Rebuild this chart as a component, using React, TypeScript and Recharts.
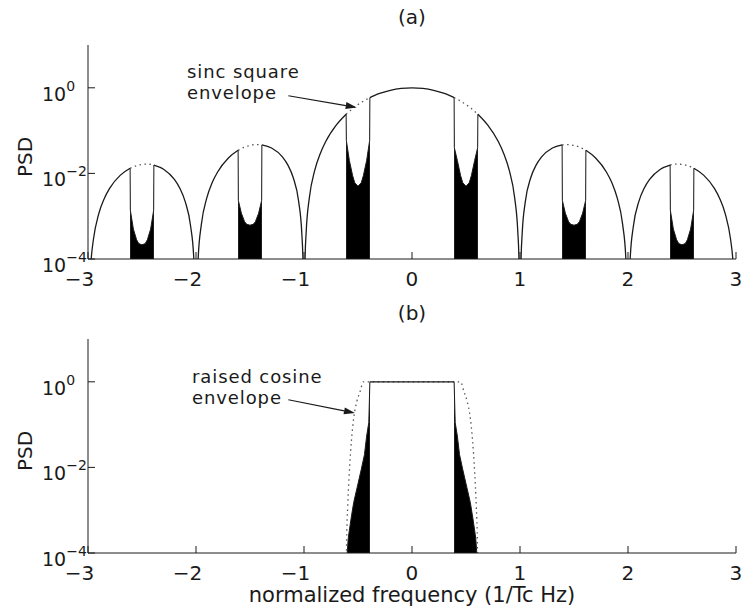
import React from "react";
import { Area, ComposedChart, Line, ReferenceLine, XAxis, YAxis } from "recharts";

const FONT = '"DejaVu Sans", "Liberation Sans", sans-serif';
const INK = "#1a1a1a";

const freqTicks = [-3, -2, -1, 0, 1, 2, 3];
const psdTicks = [1e-4, 1e-2, 1];
const psdDomain = [1e-4, 10];

// (a) sinc-square trace, null = notched band
const sincFreq = [
  -3, -2.99, -2.97, -2.95, -2.9, -2.85, -2.8, -2.7, -2.61, -2.5,
  -2.39, -2.3, -2.2, -2.15, -2.1, -2.05, -2.02, -2, -1.98, -1.95, -1.9, -1.85, -1.8, -1.7, -1.61, -1.5,
  -1.39, -1.3, -1.2, -1.15, -1.1, -1.05, -1.02, -1.01, -1, -0.99, -0.98, -0.95, -0.9, -0.85, -0.8, -0.7, -0.61, -0.5,
  -0.39, -0.35, -0.3, -0.2, -0.1, 0, 0.1, 0.2, 0.3, 0.35, 0.39, 0.5,
  0.61, 0.7, 0.8, 0.85, 0.9, 0.95, 0.98, 0.99, 1, 1.01, 1.02, 1.05, 1.1, 1.15, 1.2, 1.3, 1.39, 1.5,
  1.61, 1.7, 1.8, 1.85, 1.9, 1.95, 1.98, 2, 2.02, 2.05, 2.1, 2.15, 2.2, 2.3, 2.39, 2.5,
  2.61, 2.7, 2.8, 2.85, 2.9, 2.95, 2.97, 2.99, 3,
];
const sincPsd = [
  1e-6, 1.12e-5, 1.02e-4, 2.85e-4, 1.15e-3, 2.57e-3, 4.47e-3, 9.1e-3, 0.01317, null,
  0.0157, 0.01254, 0.00723, 0.00452, 0.00219, 5.9e-4, 9.8e-5, 1e-6, 1.02e-4, 6.52e-4, 2.68e-3, 6.1e-3, 0.0108, 0.02295, 0.0346, null,
  0.04643, 0.03924, 0.02431, 0.01579, 0.008, 0.00225, 3.84e-4, 9.8e-5, 1e-6, 1.02e-4, 4.16e-4, 0.00275, 0.01195, 0.0289, 0.0547, 0.1353, 0.2411, null,
  0.5898, 0.6566, 0.7368, 0.8751, 0.9675, 1, 0.9675, 0.8751, 0.7368, 0.6566, 0.5898, null,
  0.2411, 0.1353, 0.0547, 0.0289, 0.01195, 0.00275, 4.16e-4, 1.02e-4, 1e-6, 9.8e-5, 3.84e-4, 0.00225, 0.008, 0.01579, 0.02431, 0.03924, 0.04643, null,
  0.0346, 0.02295, 0.0108, 6.1e-3, 2.68e-3, 6.52e-4, 1.02e-4, 1e-6, 9.8e-5, 5.9e-4, 0.00219, 0.00452, 0.00723, 0.01254, 0.0157, null,
  0.01317, 9.1e-3, 4.47e-3, 2.57e-3, 1.15e-3, 2.85e-4, 1.02e-4, 1.12e-5, 1e-6,
];

// (a) dotted sinc-square envelope across the notches
const sincEnvFreq = [
  -2.61, -2.55, -2.5, -2.45, -2.39, -2, -1.61, -1.55, -1.5, -1.45, -1.39, -1,
  -0.61, -0.55, -0.5, -0.45, -0.39, 0, 0.39, 0.45, 0.5, 0.55, 0.61, 1,
  1.39, 1.45, 1.5, 1.55, 1.61, 2, 2.39, 2.45, 2.5, 2.55, 2.61,
];
const sincEnvPsd = [
  0.01317, 0.0152, 0.01621, 0.01647, 0.0157, null, 0.0346, 0.04114, 0.04503, 0.04701, 0.04643, null,
  0.2411, 0.3267, 0.4053, 0.4881, 0.5898, null, 0.5898, 0.4881, 0.4053, 0.3267, 0.2411, null,
  0.04643, 0.04701, 0.04503, 0.04114, 0.0346, null, 0.0157, 0.01647, 0.01621, 0.0152, 0.01317,
];

// (a) upper edge of the dense oscillation inside each notch
const notchFreq = [
  -2.61, -2.608, -2.58, -2.55, -2.53, -2.5, -2.47, -2.45, -2.42, -2.392, -2.39, -2,
  -1.61, -1.608, -1.58, -1.55, -1.53, -1.5, -1.47, -1.45, -1.42, -1.392, -1.39, -1,
  -0.61, -0.608, -0.58, -0.55, -0.53, -0.5, -0.47, -0.45, -0.42, -0.392, -0.39, 0,
  0.39, 0.392, 0.42, 0.45, 0.47, 0.5, 0.53, 0.55, 0.58, 0.608, 0.61, 1,
  1.39, 1.392, 1.42, 1.45, 1.47, 1.5, 1.53, 1.55, 1.58, 1.608, 1.61, 2,
  2.39, 2.392, 2.42, 2.45, 2.47, 2.5, 2.53, 2.55, 2.58, 2.608, 2.61,
];
const notchPsd = [
  0.01317, 0.00138, 5.0e-4, 2.82e-4, 2.29e-4, 2.14e-4, 2.29e-4, 2.82e-4, 5.0e-4, 0.00138, 0.0157, null,
  0.0346, 0.00234, 0.001175, 7.41e-4, 6.46e-4, 6.17e-4, 6.46e-4, 7.41e-4, 0.001175, 0.00234, 0.04643, null,
  0.2411, 0.0589, 0.01995, 0.00891, 0.00603, 0.00501, 0.00603, 0.00891, 0.01995, 0.0589, 0.5898, null,
  0.5898, 0.04, 0.01995, 0.00891, 0.00603, 0.00501, 0.00603, 0.00891, 0.01995, 0.04, 0.2411, null,
  0.04643, 0.00234, 0.001175, 7.41e-4, 6.46e-4, 6.17e-4, 6.46e-4, 7.41e-4, 0.001175, 0.00234, 0.0346, null,
  0.0157, 0.00138, 5.0e-4, 2.82e-4, 2.29e-4, 2.14e-4, 2.29e-4, 2.82e-4, 5.0e-4, 0.00138, 0.01317,
];

// (b) raised cosine filtered spectrum
const rcFlatFreq = [-0.39, 0.39];
const rcFlatPsd = [1, 1];

const rcSkirtFreq = [
  -0.6, -0.59, -0.565, -0.54, -0.5, -0.47, -0.44, -0.42, -0.4, -0.39, 0,
  0.39, 0.4, 0.42, 0.44, 0.47, 0.5, 0.54, 0.565, 0.59, 0.6,
];
const rcSkirtPsd = [
  1e-4, 2.24e-4, 6.17e-4, 0.00151, 0.00417, 0.00891, 0.01995, 0.0537, 0.112, 1, null,
  1, 0.112, 0.0537, 0.01995, 0.00891, 0.00417, 0.00151, 6.17e-4, 2.24e-4, 1e-4,
];

const rcEnvFreq = [
  -0.61, -0.605, -0.595, -0.58, -0.56, -0.54, -0.51, -0.48, -0.45,
  0.45, 0.48, 0.51, 0.54, 0.56, 0.58, 0.595, 0.605, 0.61,
];
const rcEnvPsd = [
  1e-5, 2.0e-4, 0.00126, 0.0079, 0.0447, 0.141, 0.355, 0.6, 1,
  1, 0.6, 0.355, 0.141, 0.0447, 0.0079, 0.00126, 2.0e-4, 1e-5,
];

const zip = (xs: number[], ys: (number | null)[]) => xs.map((f, i) => ({ f, psd: ys[i] }));

function FreqTick({ x, y, payload }: any) {
  const v = payload.value;
  const label = v < 0 ? `\u2212${-v}` : `${v}`;
  return (
    <text x={x + 6.3} y={y + 27} textAnchor="end" fontSize={20} fontFamily={FONT} fill={INK}>
      {label}
    </text>
  );
}

function PsdTick({ x, y, payload }: any) {
  const e = Math.round(Math.log10(payload.value));
  return (
    <text x={x - 46} y={y + 13} textAnchor="start" fontSize={19} fontFamily={FONT} fill={INK}>
      10
      <tspan dy={-10} fontSize={14}>
        {e < 0 ? `\u2212${-e}` : `${e}`}
      </tspan>
    </text>
  );
}

function Arrow({ x1, y1, x2, y2 }: any) {
  const a = Math.atan2(y2 - y1, x2 - x1);
  const bx = x2 - 11 * Math.cos(a);
  const by = y2 - 11 * Math.sin(a);
  const h = 3.5;
  const pts = `${x2},${y2} ${bx - h * Math.sin(a)},${by + h * Math.cos(a)} ${bx + h * Math.sin(a)},${by - h * Math.cos(a)}`;
  return (
    <g>
      <line x1={x1} y1={y1} x2={bx} y2={by} stroke={INK} strokeWidth={1.2} />
      <polygon points={pts} fill={INK} />
    </g>
  );
}

const axisStroke = { stroke: INK, strokeWidth: 1 };

function Panel({ children, arrow }: { children: React.ReactNode; arrow: { x: number; y: number }[] }) {
  return (
    <ComposedChart width={744} height={300} margin={{ top: 45, right: 8, bottom: 0, left: 8 }}>
      <XAxis
        xAxisId="b"
        dataKey="f"
        type="number"
        domain={[-3, 3]}
        ticks={freqTicks}
        allowDataOverflow
        height={41}
        tickSize={-7}
        tickMargin={7}
        tick={<FreqTick />}
        axisLine={axisStroke}
        tickLine={axisStroke}
      />
      <XAxis
        xAxisId="t"
        orientation="top"
        dataKey="f"
        type="number"
        domain={[-3, 3]}
        ticks={freqTicks}
        allowDataOverflow
        height={0}
        tickSize={-7}
        tick={false}
        axisLine={axisStroke}
        tickLine={axisStroke}
      />
      <YAxis
        yAxisId="l"
        type="number"
        scale="log"
        domain={psdDomain}
        ticks={psdTicks}
        allowDataOverflow
        width={80}
        tickSize={-7}
        tickMargin={7}
        tick={<PsdTick />}
        axisLine={axisStroke}
        tickLine={axisStroke}
      />
      <YAxis
        yAxisId="r"
        orientation="right"
        type="number"
        scale="log"
        domain={psdDomain}
        ticks={psdTicks}
        allowDataOverflow
        width={0}
        tickSize={-7}
        tick={false}
        axisLine={axisStroke}
        tickLine={axisStroke}
      />
      {children}
      <ReferenceLine xAxisId="b" yAxisId="l" segment={arrow} shape={<Arrow />} ifOverflow="visible" />
    </ComposedChart>
  );
}

const seriesIds = { xAxisId: "b", yAxisId: "l" };

export default function App() {
  return (
    <div style={{ position: "absolute", left: 0, top: 0, width: 744, height: 607, background: "#fff" }}>
      <div style={{ position: "absolute", left: 0, top: 0 }}>
        <Panel arrow={[{ x: -1.145, y: 0.652 }, { x: -0.512, y: 0.348 }]}>
          <Line
            {...seriesIds}
            data={zip(sincEnvFreq, sincEnvPsd)}
            dataKey="psd"
            type="monotone"
            stroke="#555"
            strokeWidth={1.3}
            strokeDasharray="1.5 3.5"
            dot={false}
            isAnimationActive={false}
          />
          <Area
            {...seriesIds}
            data={zip(notchFreq, notchPsd)}
            dataKey="psd"
            type="linear"
            baseValue={1e-4}
            stroke={INK}
            strokeWidth={1}
            fill="#000"
            fillOpacity={1}
            isAnimationActive={false}
          />
          <Line
            {...seriesIds}
            data={zip(sincFreq, sincPsd)}
            dataKey="psd"
            type="monotone"
            stroke={INK}
            strokeWidth={1.3}
            dot={false}
            isAnimationActive={false}
          />
        </Panel>
      </div>
      <div style={{ position: "absolute", left: 0, top: 294 }}>
        <Panel arrow={[{ x: -1.145, y: 0.381 }, { x: -0.528, y: 0.187 }]}>
          <Line
            {...seriesIds}
            data={zip(rcEnvFreq, rcEnvPsd)}
            dataKey="psd"
            type="monotone"
            stroke="#555"
            strokeWidth={1.3}
            strokeDasharray="1.5 3.5"
            dot={false}
            isAnimationActive={false}
          />
          <Area
            {...seriesIds}
            data={zip(rcSkirtFreq, rcSkirtPsd)}
            dataKey="psd"
            type="linear"
            baseValue={1e-4}
            stroke={INK}
            strokeWidth={1}
            fill="#000"
            fillOpacity={1}
            isAnimationActive={false}
          />
          <Line
            {...seriesIds}
            data={zip(rcFlatFreq, rcFlatPsd)}
            dataKey="psd"
            type="linear"
            stroke={INK}
            strokeWidth={1.3}
            dot={false}
            isAnimationActive={false}
          />
        </Panel>
      </div>
      <svg
        width={744}
        height={607}
        style={{ position: "absolute", left: 0, top: 0, pointerEvents: "none" }}
        fontFamily={FONT}
        fill={INK}
        fontSize={20}
      >
        <text x={412} y={24} textAnchor="middle">(a)</text>
        <text x={412} y={320} textAnchor="middle">(b)</text>
        <text x={32} y={157} textAnchor="middle" transform="rotate(-90 32 157)">PSD</text>
        <text x={32} y={451} textAnchor="middle" transform="rotate(-90 32 451)">PSD</text>
        <text x={412} y={602} textAnchor="middle" fontSize={21}>normalized frequency (1/Tc Hz)</text>
        <g fontSize={18} letterSpacing={0.9}>
          <text x={187} y={78}>sinc square</text>
          <text x={187} y={99}>envelope</text>
          <text x={192} y={383}>raised cosine</text>
          <text x={192} y={404}>envelope</text>
        </g>
      </svg>
    </div>
  );
}
